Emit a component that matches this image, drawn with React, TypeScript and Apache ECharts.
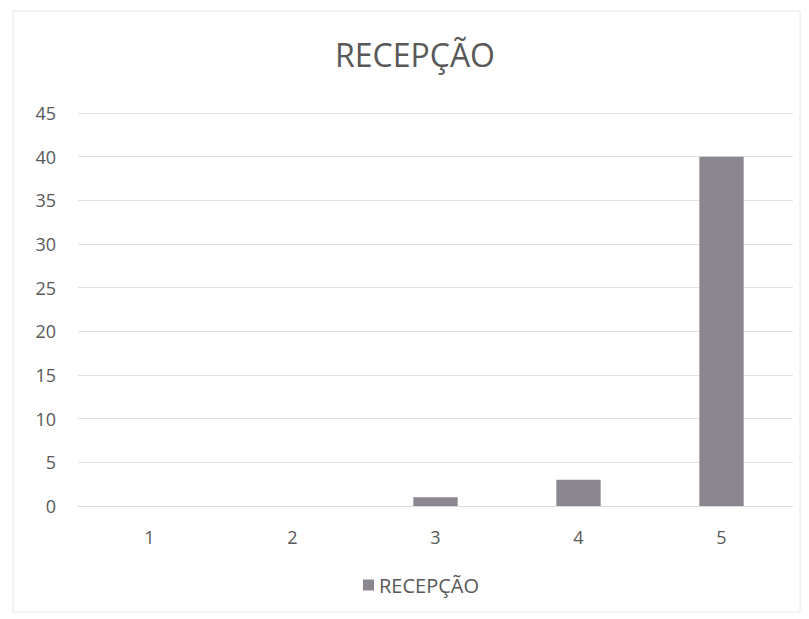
import React, { useEffect, useRef } from "react";
import * as echarts from "echarts";

const title = "RECEPÇÃO";
const categories = ["1", "2", "3", "4", "5"];
const seriesName = "RECEPÇÃO";
const values = [0, 0, 1, 3, 40];
const yMin = 0;
const yMax = 45;
const yInterval = 5;

export default function App() {
  const ref = useRef<HTMLDivElement>(null);
  useEffect(() => {
    document.body.style.margin = "0";
    const chart = echarts.init(ref.current!, null, { renderer: "svg" });
    const font = "'Open Sans', 'Noto Sans', sans-serif";
    chart.setOption({
      animation: false,
      backgroundColor: "#ffffff",
      textStyle: { fontFamily: font },
      title: {
        text: title,
        left: 330,
        top: 33,
        textStyle: { fontSize: 32, fontWeight: "normal", color: "#595959", fontFamily: font },
      },
      graphic: [
        {
          type: "rect",
          shape: { x: 13, y: 11, width: 787, height: 601 },
          style: { fill: "none", stroke: "#e8e8e8", lineWidth: 1 },
          silent: true,
        },
      ],
      legend: {
        bottom: 19,
        left: 358,
        itemWidth: 11,
        itemHeight: 11,
        itemGap: 10,
        icon: "rect",
        textStyle: { fontSize: 20, color: "#595959", fontFamily: font },
        data: [seriesName],
      },
      grid: { left: 78, right: 16, top: 113, bottom: 113, containLabel: false },
      xAxis: {
        type: "category",
        data: categories,
        axisLine: { lineStyle: { color: "#d9d9d9" } },
        axisTick: { show: false },
        axisLabel: { color: "#595959", fontSize: 18, margin: 22, fontFamily: font },
      },
      yAxis: {
        type: "value",
        min: yMin,
        max: yMax,
        interval: yInterval,
        axisLine: { show: false },
        axisTick: { show: false },
        axisLabel: { color: "#595959", fontSize: 18, margin: 22, fontFamily: font },
        splitLine: { lineStyle: { color: "#e0e0e0" } },
      },
      series: [
        {
          name: seriesName,
          type: "bar",
          data: values,
          barWidth: "31%",
          itemStyle: { color: "#8b8690" },
        },
      ],
    });
    return () => chart.dispose();
  }, []);
  return <div ref={ref} style={{ width: 809, height: 619 }} />;
}
